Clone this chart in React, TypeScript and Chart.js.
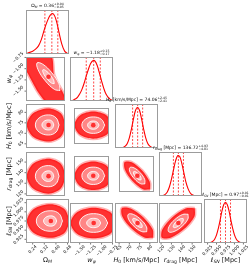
import React, { useEffect, useRef } from "react";
import { Chart, registerables } from "chart.js";
Chart.register(...registerables);

type Seg = { t: string; sub?: boolean; it?: boolean };
type XY = number[];

// ---------- parameters: axis ranges and ticks ----------
const axisMin = [0.194, -1.72, 63.0, 118.0, 0.915];
const axisMax = [0.49, -0.74, 84.0, 159.5, 1.035];
const ticksOm = [0.24, 0.32, 0.4, 0.48];
const ticksW = [-1.5, -1.25, -1.0, -0.75];
const ticksH0 = [65, 70, 75, 80];
const ticksRd = [120, 130, 140, 150];
const ticksL = [0.925, 0.95, 0.975, 1.0, 1.025];
const tickLabelsOm = ["0.24", "0.32", "0.40", "0.48"];
const tickLabelsW = ["−1.50", "−1.25", "−1.00", "−0.75"];
const tickLabelsH0 = ["65", "70", "75", "80"];
const tickLabelsRd = ["120", "130", "140", "150"];
const tickLabelsL = ["0.925", "0.950", "0.975", "1.000", "1.025"];

const labelOm: Seg[] = [{ t: "Ω" }, { t: "M", sub: true, it: true }];
const labelW: Seg[] = [{ t: "w", it: true }, { t: "φ", sub: true, it: true }];
const labelH0: Seg[] = [{ t: "H", it: true }, { t: "0", sub: true }, { t: " [km/s/Mpc]" }];
const labelRd: Seg[] = [{ t: "r", it: true }, { t: "drag", sub: true }, { t: " [Mpc]" }];
const labelL: Seg[] = [{ t: "ℓ" }, { t: "SN", sub: true, it: true }, { t: " [Mpc]" }];

const titleValues = ["0.36", "−1.18", "74.06", "136.72", "0.97"];
const titlePlus = ["+0.04", "+0.15", "+2.45", "+4.93", "+0.01"];
const titleMinus = ["−0.05", "−0.17", "−2.41", "−4.81", "−0.01"];

// ---------- 1D marginal histograms ----------
const histXOm = [0.2, 0.22, 0.24, 0.26, 0.28, 0.3, 0.32, 0.34, 0.36, 0.38, 0.4, 0.42, 0.44, 0.46, 0.48];
const histYOm = [0.02, 0.04, 0.07, 0.12, 0.2, 0.36, 0.6, 0.8, 0.95, 0.99, 0.85, 0.55, 0.25, 0.07, 0.01];
const histXW = [-1.7, -1.65, -1.6, -1.55, -1.5, -1.45, -1.4, -1.35, -1.3, -1.25, -1.2, -1.15, -1.1, -1.05, -1.0, -0.95, -0.9, -0.85, -0.8, -0.75];
const histYW = [0.01, 0.02, 0.05, 0.09, 0.17, 0.28, 0.43, 0.61, 0.78, 0.92, 0.99, 0.98, 0.87, 0.69, 0.49, 0.31, 0.17, 0.09, 0.04, 0.02];
const histXH0 = [64, 65, 66, 67, 68, 69, 70, 71, 72, 73, 74, 75, 76, 77, 78, 79, 80, 81, 82, 83, 84];
const histYH0 = [0, 0, 0.004, 0.014, 0.044, 0.11, 0.25, 0.46, 0.71, 0.92, 1.0, 0.92, 0.71, 0.46, 0.25, 0.11, 0.044, 0.014, 0.004, 0, 0];
const histXRd = [120, 122, 124, 126, 128, 130, 132, 134, 136, 138, 140, 142, 144, 146, 148, 150, 152, 154];
const histYRd = [0.004, 0.013, 0.04, 0.1, 0.22, 0.41, 0.64, 0.86, 0.99, 0.97, 0.8, 0.57, 0.34, 0.18, 0.08, 0.03, 0.01, 0];
const histXL = [0.925, 0.93, 0.935, 0.94, 0.945, 0.95, 0.955, 0.96, 0.965, 0.97, 0.975, 0.98, 0.985, 0.99, 0.995, 1.0, 1.005, 1.01, 1.015, 1.02, 1.025];
const histYL = [0.002, 0.006, 0.017, 0.044, 0.1, 0.2, 0.36, 0.56, 0.78, 0.94, 1.0, 0.94, 0.78, 0.56, 0.36, 0.2, 0.1, 0.044, 0.017, 0.006, 0.002];
const quantOm = [0.324, 0.372, 0.413];
const quantW = [-1.35, -1.18, -1.03];
const quantH0 = [71.6, 74.06, 76.5];
const quantRd = [131.9, 136.72, 141.6];
const quantL = [0.961, 0.975, 0.989];

// ---------- 2D contours (x = column parameter, y = row parameter): 1σ, 2σ, outer cloud ----------
const cWOm1: XY[] = [[0.408, -1.334], [0.404, -1.258], [0.377, -1.136], [0.343, -1.04], [0.322, -1.026], [0.326, -1.102], [0.353, -1.224], [0.387, -1.32]];
const cWOm2: XY[] = [[0.452, -1.488], [0.444, -1.336], [0.39, -1.092], [0.321, -0.9], [0.278, -0.872], [0.286, -1.024], [0.34, -1.268], [0.409, -1.46]];
const cWOm3: XY[] = [[0.18, -0.7], [0.38, -0.7], [0.407, -1.141], [0.442, -1.364], [0.476, -1.542], [0.5, -1.76], [0.359, -1.76], [0.29, -1.542], [0.242, -1.297], [0.201, -1.074], [0.18, -1.0]];

const cHOm1: XY[] = [[0.405, 74.0], [0.393, 75.7], [0.365, 76.4], [0.33, 75.7], [0.315, 74.0], [0.33, 72.3], [0.365, 71.6], [0.393, 72.3]];
const cHOm2: XY[] = [[0.445, 74.0], [0.422, 77.4], [0.365, 78.8], [0.294, 77.4], [0.265, 74.0], [0.294, 70.6], [0.365, 69.2], [0.422, 70.6]];
const cHOm3: XY[] = [[0.497, 74.0], [0.458, 79.6], [0.365, 81.9], [0.248, 79.6], [0.2, 74.0], [0.248, 68.4], [0.365, 66.1], [0.458, 68.4]];

const cROm1: XY[] = [[0.405, 136.7], [0.393, 140.2], [0.365, 141.7], [0.33, 140.2], [0.315, 136.7], [0.33, 133.2], [0.365, 131.7], [0.393, 133.2]];
const cROm2: XY[] = [[0.445, 136.7], [0.422, 143.8], [0.365, 146.7], [0.294, 143.8], [0.265, 136.7], [0.294, 129.6], [0.365, 126.7], [0.422, 129.6]];
const cROm3: XY[] = [[0.497, 136.7], [0.458, 148.4], [0.365, 153.2], [0.248, 148.4], [0.2, 136.7], [0.248, 125.0], [0.365, 120.2], [0.458, 125.0]];

const cLOm1: XY[] = [[0.405, 0.975], [0.393, 0.985], [0.365, 0.989], [0.33, 0.985], [0.315, 0.975], [0.33, 0.965], [0.365, 0.961], [0.393, 0.965]];
const cLOm2: XY[] = [[0.445, 0.975], [0.422, 0.995], [0.365, 1.003], [0.294, 0.995], [0.265, 0.975], [0.294, 0.955], [0.365, 0.947], [0.422, 0.955]];
const cLOm3: XY[] = [[0.497, 0.975], [0.458, 1.008], [0.365, 1.021], [0.248, 1.008], [0.2, 0.975], [0.248, 0.942], [0.365, 0.929], [0.458, 0.942]];

const cHW1: XY[] = [[-1.02, 74.0], [-1.067, 75.7], [-1.18, 76.4], [-1.293, 75.7], [-1.34, 74.0], [-1.293, 72.3], [-1.18, 71.6], [-1.067, 72.3]];
const cHW2: XY[] = [[-0.86, 74.0], [-0.954, 77.4], [-1.18, 78.8], [-1.406, 77.4], [-1.5, 74.0], [-1.406, 70.6], [-1.18, 69.2], [-0.954, 70.6]];
const cHW3: XY[] = [[-0.652, 74.0], [-0.807, 79.6], [-1.18, 81.9], [-1.553, 79.6], [-1.708, 74.0], [-1.553, 68.4], [-1.18, 66.1], [-0.807, 68.4]];

const cRW1: XY[] = [[-1.02, 136.7], [-1.067, 140.2], [-1.18, 141.7], [-1.293, 140.2], [-1.34, 136.7], [-1.293, 133.2], [-1.18, 131.7], [-1.067, 133.2]];
const cRW2: XY[] = [[-0.86, 136.7], [-0.954, 143.8], [-1.18, 146.7], [-1.406, 143.8], [-1.5, 136.7], [-1.406, 129.6], [-1.18, 126.7], [-0.954, 129.6]];
const cRW3: XY[] = [[-0.652, 136.7], [-0.807, 148.4], [-1.18, 153.2], [-1.553, 148.4], [-1.708, 136.7], [-1.553, 125.0], [-1.18, 120.2], [-0.807, 125.0]];

const cLW1: XY[] = [[-1.02, 0.975], [-1.067, 0.985], [-1.18, 0.989], [-1.293, 0.985], [-1.34, 0.975], [-1.293, 0.965], [-1.18, 0.961], [-1.067, 0.965]];
const cLW2: XY[] = [[-0.86, 0.975], [-0.954, 0.995], [-1.18, 1.003], [-1.406, 0.995], [-1.5, 0.975], [-1.406, 0.955], [-1.18, 0.947], [-0.954, 0.955]];
const cLW3: XY[] = [[-0.652, 0.975], [-0.807, 1.008], [-1.18, 1.021], [-1.553, 1.008], [-1.708, 0.975], [-1.553, 0.942], [-1.18, 0.929], [-0.807, 0.942]];

const cRH1: XY[] = [[76.24, 132.03], [76.19, 134.65], [74.85, 138.47], [73.01, 141.26], [71.76, 141.38], [71.81, 138.76], [73.15, 134.93], [74.99, 132.15]];
const cRH2: XY[] = [[78.49, 127.35], [78.37, 132.59], [75.7, 140.24], [72.03, 145.81], [69.51, 146.05], [69.63, 140.81], [72.3, 133.17], [75.97, 127.59]];
const cRH3: XY[] = [[81.63, 120.81], [81.43, 129.72], [76.88, 142.71], [70.65, 152.19], [66.37, 152.6], [66.57, 143.69], [71.12, 130.69], [77.35, 121.22]];

const cLH1: XY[] = [[76.24, 0.9619], [76.19, 0.9692], [74.85, 0.98], [73.01, 0.9878], [71.76, 0.9881], [71.81, 0.9808], [73.15, 0.97], [74.99, 0.9622]];
const cLH2: XY[] = [[78.49, 0.9488], [78.37, 0.9635], [75.7, 0.9849], [72.03, 1.0005], [69.51, 1.0012], [69.63, 0.9865], [72.3, 0.9651], [75.97, 0.9495]];
const cLH3: XY[] = [[81.63, 0.9305], [81.43, 0.9554], [76.88, 0.9918], [70.65, 1.0184], [66.37, 1.0195], [66.57, 0.9946], [71.12, 0.9582], [77.35, 0.9316]];

const cLR1: XY[] = [[141.38, 0.9881], [141.26, 0.9808], [138.47, 0.97], [134.65, 0.9622], [132.03, 0.9619], [132.15, 0.9692], [134.93, 0.98], [138.76, 0.9878]];
const cLR2: XY[] = [[146.05, 1.0012], [145.81, 0.9865], [140.24, 0.9651], [132.59, 0.9495], [127.35, 0.9488], [127.59, 0.9635], [133.17, 0.9849], [140.81, 1.0005]];
const cLR3: XY[] = [[152.6, 1.0195], [152.19, 0.9946], [142.71, 0.9582], [129.72, 0.9316], [120.81, 0.9305], [121.22, 0.9554], [130.69, 0.9918], [143.69, 1.0184]];

const centers = [0.365, -1.18, 74.0, 136.7, 0.975];

// ---------- assembled lookups ----------
const tickVals = [ticksOm, ticksW, ticksH0, ticksRd, ticksL];
const tickLabels = [tickLabelsOm, tickLabelsW, tickLabelsH0, tickLabelsRd, tickLabelsL];
const labels = [labelOm, labelW, labelH0, labelRd, labelL];
const histX = [histXOm, histXW, histXH0, histXRd, histXL];
const histY = [histYOm, histYW, histYH0, histYRd, histYL];
const quants = [quantOm, quantW, quantH0, quantRd, quantL];
const contours: Record<string, XY[][]> = {
  "1-0": [cWOm1, cWOm2, cWOm3],
  "2-0": [cHOm1, cHOm2, cHOm3],
  "3-0": [cROm1, cROm2, cROm3],
  "4-0": [cLOm1, cLOm2, cLOm3],
  "2-1": [cHW1, cHW2, cHW3],
  "3-1": [cRW1, cRW2, cRW3],
  "4-1": [cLW1, cLW2, cLW3],
  "3-2": [cRH1, cRH2, cRH3],
  "4-2": [cLH1, cLH2, cLH3],
  "4-3": [cLR1, cLR2, cLR3],
};

// ---------- layout ----------
const FONT = "'DejaVu Sans', sans-serif";
const colLeft = [26, 70, 115, 159, 204];
const rowTop = [10, 57, 104, 152, 199];
const PW = 43;
const PH = 44;
const HIST_MAX = 1.08;
const LABEL_SIZE = 6.5;

function fontFor(s: Seg, size: number) {
  const sz = s.sub ? size * 0.7 : size;
  return `${s.it ? "italic " : ""}${sz}px ${FONT}`;
}
function segsWidth(ctx: CanvasRenderingContext2D, segs: Seg[], size: number) {
  let w = 0;
  for (const s of segs) {
    ctx.font = fontFor(s, size);
    w += ctx.measureText(s.t).width;
  }
  return w;
}
function drawSegs(ctx: CanvasRenderingContext2D, segs: Seg[], x: number, y: number, size: number) {
  let cx = x;
  ctx.textAlign = "left";
  ctx.textBaseline = "alphabetic";
  for (const s of segs) {
    ctx.font = fontFor(s, size);
    ctx.fillText(s.t, cx, s.sub ? y + size * 0.22 : y);
    cx += ctx.measureText(s.t).width;
  }
  return cx;
}

function makeDeco(row: number, col: number) {
  return {
    id: "deco" + row + col,
    afterDraw(chart: any) {
      const ctx: CanvasRenderingContext2D = chart.ctx;
      const a = chart.chartArea;
      const xs = chart.scales.x;
      const ys = chart.scales.y;
      ctx.save();
      ctx.strokeStyle = "#9c9c9c";
      ctx.lineWidth = 1;
      ctx.strokeRect(Math.round(a.left) + 0.5, Math.round(a.top) + 0.5, Math.round(a.right - a.left) - 1, Math.round(a.bottom - a.top) - 1);
      ctx.fillStyle = "#111";
      const tsz = 4.3;
      if (row === 4) {
        const tv = tickVals[col];
        const tl = tickLabels[col];
        for (let i = 0; i < tv.length; i++) {
          const px = xs.getPixelForValue(tv[i]);
          ctx.strokeStyle = "#777";
          ctx.beginPath();
          ctx.moveTo(px, a.bottom);
          ctx.lineTo(px, a.bottom + 1.5);
          ctx.stroke();
          ctx.font = `${tsz}px ${FONT}`;
          const w = ctx.measureText(tl[i]).width;
          const bb = (w + tsz * 0.75) * 0.7071;
          ctx.save();
          ctx.translate(px, a.bottom + 2 + bb / 2);
          ctx.rotate(-Math.PI / 4);
          ctx.textAlign = "center";
          ctx.textBaseline = "middle";
          ctx.fillText(tl[i], 0, 0);
          ctx.restore();
        }
        const lw = segsWidth(ctx, labels[col], LABEL_SIZE);
        drawSegs(ctx, labels[col], (a.left + a.right) / 2 - lw / 2, a.bottom + 18.5, LABEL_SIZE);
      }
      if (col === 0 && row > 0) {
        const tv = tickVals[row];
        const tl = tickLabels[row];
        for (let i = 0; i < tv.length; i++) {
          const py = ys.getPixelForValue(tv[i]);
          ctx.strokeStyle = "#777";
          ctx.beginPath();
          ctx.moveTo(a.left, py);
          ctx.lineTo(a.left - 1.5, py);
          ctx.stroke();
          ctx.font = `${tsz}px ${FONT}`;
          const w = ctx.measureText(tl[i]).width;
          const bb = (w + tsz * 0.75) * 0.7071;
          ctx.save();
          ctx.translate(a.left - 2 - bb / 2, py);
          ctx.rotate(-Math.PI / 4);
          ctx.textAlign = "center";
          ctx.textBaseline = "middle";
          ctx.fillText(tl[i], 0, 0);
          ctx.restore();
        }
        const lw = segsWidth(ctx, labels[row], LABEL_SIZE);
        ctx.save();
        ctx.translate(a.left - 18, (a.top + a.bottom) / 2);
        ctx.rotate(-Math.PI / 2);
        drawSegs(ctx, labels[row], -lw / 2, 2.5, LABEL_SIZE);
        ctx.restore();
      }
      if (row === col) {
        const sz = 4.5;
        const main: Seg[] = [...labels[row], { t: " = " + titleValues[row] }];
        const mw = segsWidth(ctx, main, sz);
        ctx.font = `${sz * 0.7}px ${FONT}`;
        const pw = Math.max(ctx.measureText(titlePlus[row]).width, ctx.measureText(titleMinus[row]).width);
        const x0 = (a.left + a.right) / 2 - (mw + pw) / 2;
        const base = a.top - 3;
        const xe = drawSegs(ctx, main, x0, base, sz);
        ctx.font = `${sz * 0.7}px ${FONT}`;
        ctx.fillText(titlePlus[row], xe, base - sz * 0.45);
        ctx.fillText(titleMinus[row], xe, base + sz * 0.3);
      }
      ctx.restore();
    },
  };
}

function polyDS(pts: XY[], bg: string, border: string, bw: number, tension: number) {
  const closed = [...pts, pts[0]];
  return {
    data: closed.map((p) => ({ x: p[0], y: p[1] })),
    fill: "shape",
    backgroundColor: bg,
    borderColor: border,
    borderWidth: bw,
    pointRadius: 0,
    tension,
  };
}

function buildConfig(row: number, col: number, padding: any) {
  const diag = row === col;
  let datasets: any[];
  let yMin: number;
  let yMax: number;
  if (diag) {
    const curve = histX[row].map((x, i) => ({ x, y: histY[row][i] }));
    datasets = [
      { data: curve, borderColor: "#ff0000", borderWidth: 1.1, pointRadius: 0, tension: 0.35, fill: false },
      ...quants[row].map((q) => ({
        data: [{ x: q, y: 0 }, { x: q, y: HIST_MAX }],
        borderColor: "rgba(255,0,0,0.9)",
        borderWidth: 0.8,
        borderDash: [2, 1.5],
        pointRadius: 0,
        fill: false,
      })),
    ];
    yMin = 0;
    yMax = HIST_MAX;
  } else {
    const cs = contours[row + "-" + col];
    datasets = [
      { data: [{ x: centers[col], y: centers[row] }], pointRadius: 2.3, pointBackgroundColor: "#ff3030", pointBorderWidth: 0, showLine: false },
      polyDS(cs[0], "#ffbaba", "#ffffff", 0.9, 0.4),
      polyDS(cs[1], "#ff8686", "#ffffff", 0.9, 0.4),
      polyDS(cs[2], "rgba(255,20,20,0.88)", "rgba(255,0,0,0.3)", 3, 0.3),
    ];
    yMin = axisMin[row];
    yMax = axisMax[row];
  }
  return {
    type: "line" as const,
    data: { datasets },
    options: {
      animation: false,
      responsive: false,
      devicePixelRatio: 1,
      events: [],
      layout: { padding },
      plugins: { legend: { display: false }, tooltip: { enabled: false }, title: { display: false } },
      scales: {
        x: { type: "linear", min: axisMin[col], max: axisMax[col], display: false },
        y: { type: "linear", min: yMin, max: yMax, display: false },
      },
    },
    plugins: [makeDeco(row, col)],
  };
}

function Panel({ row, col }: { row: number; col: number }) {
  const ref = useRef<HTMLCanvasElement>(null);
  const diag = row === col;
  const leftCol = col === 0 && row > 0;
  const padL = leftCol ? 26 : diag || row === 4 ? 12 : 0;
  const padR = diag || row === 4 ? 12 : 0;
  const padT = diag ? 10 : leftCol ? 8 : 0;
  const padB = row === 4 ? 24 : leftCol ? 8 : 0;
  const W = PW + padL + padR;
  const H = PH + padT + padB;
  useEffect(() => {
    if (!ref.current) return;
    const chart = new Chart(ref.current, buildConfig(row, col, { left: padL, right: padR, top: padT, bottom: padB }) as any);
    return () => chart.destroy();
  }, []);
  return (
    <canvas
      ref={ref}
      width={W}
      height={H}
      style={{ position: "absolute", left: colLeft[col] - padL, top: rowTop[row] - padT, width: W, height: H }}
    />
  );
}

export default function App() {
  const panels: any[] = [];
  for (let r = 0; r < 5; r++) {
    for (let c = 0; c <= r; c++) {
      panels.push(<Panel key={r + "-" + c} row={r} col={c} />);
    }
  }
  return (
    <div style={{ position: "fixed", left: 0, top: 0, width: 251, height: 267, background: "#fff", overflow: "hidden" }}>
      {panels}
    </div>
  );
}
